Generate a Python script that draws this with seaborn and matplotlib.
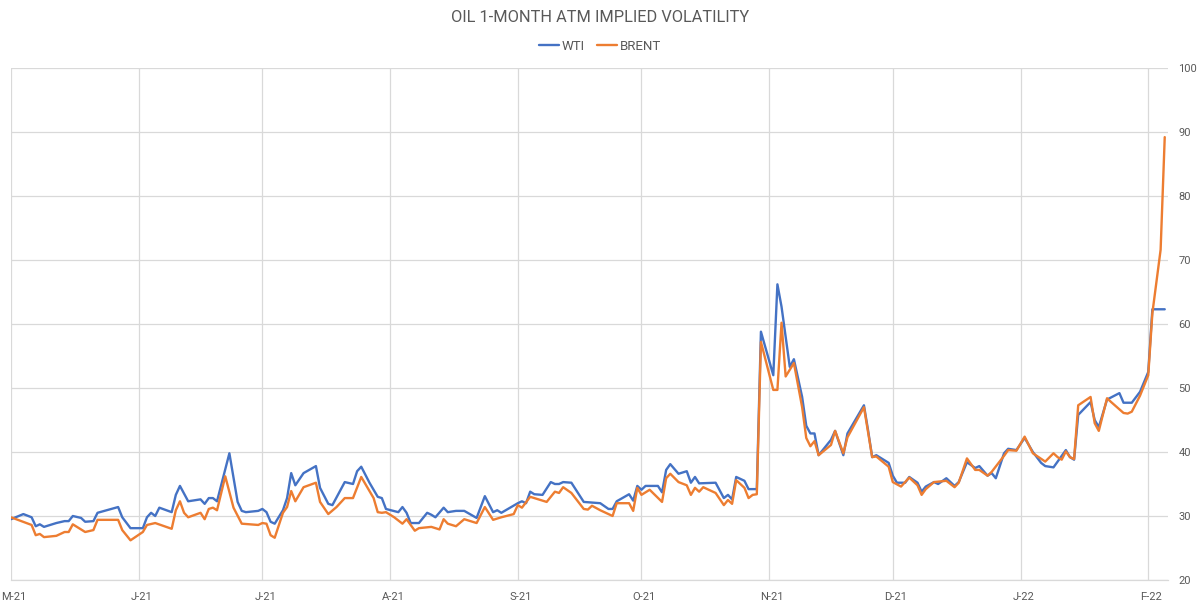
import matplotlib
matplotlib.use("Agg")
import matplotlib.pyplot as plt
import matplotlib.transforms as mtransforms
from matplotlib.lines import Line2D
import pandas as pd
import seaborn as sns

wti_dates = [
    "2021-05-01", "2021-05-04", "2021-05-06", "2021-05-07", "2021-05-08", "2021-05-09", "2021-05-12",
    "2021-05-14", "2021-05-15", "2021-05-16", "2021-05-18", "2021-05-19", "2021-05-21", "2021-05-22",
    "2021-05-27", "2021-05-28", "2021-05-30", "2021-06-02", "2021-06-03", "2021-06-04", "2021-06-05",
    "2021-06-06", "2021-06-09", "2021-06-10", "2021-06-11", "2021-06-13", "2021-06-16", "2021-06-17",
    "2021-06-18", "2021-06-19", "2021-06-20", "2021-06-23", "2021-06-25", "2021-06-26", "2021-06-27",
    "2021-06-30", "2021-07-01", "2021-07-02", "2021-07-03", "2021-07-04", "2021-07-06", "2021-07-07",
    "2021-07-08", "2021-07-09", "2021-07-11", "2021-07-14", "2021-07-15", "2021-07-17", "2021-07-18",
    "2021-07-21", "2021-07-23", "2021-07-24", "2021-07-25", "2021-07-27", "2021-07-29", "2021-07-30",
    "2021-07-31", "2021-08-03", "2021-08-04", "2021-08-05", "2021-08-06", "2021-08-08", "2021-08-10",
    "2021-08-11", "2021-08-12", "2021-08-14", "2021-08-15", "2021-08-17", "2021-08-19", "2021-08-22",
    "2021-08-24", "2021-08-26", "2021-08-27", "2021-08-28", "2021-09-01", "2021-09-02", "2021-09-03",
    "2021-09-04", "2021-09-05", "2021-09-07", "2021-09-09", "2021-09-10", "2021-09-11", "2021-09-12",
    "2021-09-14", "2021-09-17", "2021-09-21", "2021-09-23", "2021-09-24", "2021-09-25", "2021-09-28",
    "2021-09-29", "2021-09-30", "2021-10-01", "2021-10-02", "2021-10-05", "2021-10-06", "2021-10-07",
    "2021-10-08", "2021-10-10", "2021-10-12", "2021-10-13", "2021-10-14", "2021-10-15", "2021-10-19",
    "2021-10-21", "2021-10-22", "2021-10-23", "2021-10-24", "2021-10-26", "2021-10-27", "2021-10-29",
    "2021-10-30", "2021-11-02", "2021-11-03", "2021-11-04", "2021-11-06", "2021-11-07", "2021-11-09",
    "2021-11-10", "2021-11-11", "2021-11-12", "2021-11-13", "2021-11-16", "2021-11-17", "2021-11-19",
    "2021-11-20", "2021-11-24", "2021-11-25", "2021-11-26", "2021-11-27", "2021-11-30", "2021-12-01",
    "2021-12-02", "2021-12-04", "2021-12-05", "2021-12-07", "2021-12-08", "2021-12-09", "2021-12-11",
    "2021-12-12", "2021-12-14", "2021-12-16", "2021-12-17", "2021-12-19", "2021-12-21", "2021-12-22",
    "2021-12-24", "2021-12-25", "2021-12-26", "2021-12-28", "2021-12-29", "2021-12-31", "2022-01-02",
    "2022-01-04", "2022-01-06", "2022-01-07", "2022-01-09", "2022-01-12", "2022-01-13", "2022-01-14",
    "2022-01-15", "2022-01-18", "2022-01-19", "2022-01-20", "2022-01-22", "2022-01-25", "2022-01-26",
    "2022-01-28", "2022-01-30", "2022-02-01", "2022-02-02", "2022-02-05",
]
wti_values = [
    29.5, 30.3, 29.8, 28.4, 28.7, 28.3, 28.9,
    29.2, 29.2, 30.0, 29.7, 29.1, 29.2, 30.5,
    31.4, 29.8, 28.1, 28.1, 29.8, 30.5, 30.0,
    31.3, 30.6, 33.3, 34.7, 32.3, 32.6, 31.9,
    32.8, 32.8, 32.3, 39.8, 32.2, 30.8, 30.6,
    30.8, 31.1, 30.6, 29.1, 28.8, 30.9, 32.8,
    36.7, 34.8, 36.7, 37.8, 34.4, 31.9, 31.7,
    35.3, 35.0, 37.0, 37.7, 35.2, 33.0, 32.8,
    31.1, 30.6, 31.4, 30.5, 28.9, 28.9, 30.5,
    30.2, 29.8, 31.3, 30.6, 30.8, 30.8, 29.7,
    33.1, 30.6, 30.9, 30.5, 32.0, 32.3, 32.0,
    33.8, 33.4, 33.3, 35.3, 35.0, 35.0, 35.3,
    35.2, 32.2, 32.0, 31.1, 31.1, 32.3, 33.4,
    32.4, 34.7, 34.1, 34.7, 34.7, 33.7, 37.2,
    38.1, 36.6, 37.0, 35.2, 36.1, 35.1, 35.2,
    32.8, 33.3, 32.6, 36.1, 35.5, 34.2, 34.2,
    58.8, 52.0, 66.2, 62.7, 53.3, 54.5, 48.6,
    44.1, 42.9, 42.9, 39.5, 41.9, 43.3, 39.5,
    42.9, 47.3, 43.4, 39.2, 39.5, 38.3, 36.3,
    35.2, 35.2, 36.1, 35.2, 33.8, 34.6, 35.3,
    35.0, 35.9, 34.7, 35.3, 38.4, 37.5, 37.8,
    36.3, 36.7, 35.9, 39.8, 40.5, 40.3, 42.2,
    40.0, 38.3, 37.8, 37.6, 40.3, 39.2, 38.8,
    45.8, 47.8, 45.0, 43.9, 48.2, 49.2, 47.7,
    47.7, 49.4, 52.5, 62.3, 62.3,
]

brent_dates = [
    "2021-05-01", "2021-05-06", "2021-05-07", "2021-05-08", "2021-05-09", "2021-05-12", "2021-05-14",
    "2021-05-15", "2021-05-16", "2021-05-19", "2021-05-21", "2021-05-22", "2021-05-27", "2021-05-28",
    "2021-05-30", "2021-06-02", "2021-06-03", "2021-06-05", "2021-06-09", "2021-06-10", "2021-06-11",
    "2021-06-12", "2021-06-13", "2021-06-16", "2021-06-17", "2021-06-18", "2021-06-19", "2021-06-20",
    "2021-06-22", "2021-06-24", "2021-06-26", "2021-06-30", "2021-07-01", "2021-07-02", "2021-07-03",
    "2021-07-04", "2021-07-06", "2021-07-07", "2021-07-08", "2021-07-09", "2021-07-11", "2021-07-14",
    "2021-07-15", "2021-07-17", "2021-07-19", "2021-07-21", "2021-07-23", "2021-07-25", "2021-07-28",
    "2021-07-29", "2021-07-30", "2021-07-31", "2021-08-02", "2021-08-04", "2021-08-05", "2021-08-07",
    "2021-08-08", "2021-08-11", "2021-08-13", "2021-08-14", "2021-08-15", "2021-08-17", "2021-08-19",
    "2021-08-22", "2021-08-24", "2021-08-26", "2021-08-28", "2021-08-31", "2021-09-01", "2021-09-02",
    "2021-09-04", "2021-09-08", "2021-09-10", "2021-09-11", "2021-09-12", "2021-09-14", "2021-09-17",
    "2021-09-18", "2021-09-19", "2021-09-21", "2021-09-23", "2021-09-24", "2021-09-25", "2021-09-28",
    "2021-09-29", "2021-09-30", "2021-10-01", "2021-10-03", "2021-10-06", "2021-10-07", "2021-10-08",
    "2021-10-10", "2021-10-12", "2021-10-13", "2021-10-14", "2021-10-15", "2021-10-16", "2021-10-19",
    "2021-10-21", "2021-10-22", "2021-10-23", "2021-10-24", "2021-10-26", "2021-10-27", "2021-10-28",
    "2021-10-29", "2021-10-30", "2021-11-02", "2021-11-03", "2021-11-04", "2021-11-05", "2021-11-07",
    "2021-11-09", "2021-11-10", "2021-11-11", "2021-11-12", "2021-11-13", "2021-11-16", "2021-11-17",
    "2021-11-19", "2021-11-20", "2021-11-24", "2021-11-25", "2021-11-26", "2021-11-27", "2021-11-30",
    "2021-12-01", "2021-12-03", "2021-12-05", "2021-12-07", "2021-12-08", "2021-12-09", "2021-12-11",
    "2021-12-14", "2021-12-16", "2021-12-17", "2021-12-19", "2021-12-21", "2021-12-22", "2021-12-24",
    "2021-12-25", "2021-12-28", "2021-12-29", "2021-12-31", "2022-01-02", "2022-01-04", "2022-01-07",
    "2022-01-09", "2022-01-10", "2022-01-11", "2022-01-12", "2022-01-13", "2022-01-14", "2022-01-15",
    "2022-01-18", "2022-01-19", "2022-01-20", "2022-01-22", "2022-01-23", "2022-01-26", "2022-01-27",
    "2022-01-28", "2022-01-30", "2022-02-01", "2022-02-02", "2022-02-04", "2022-02-05",
]
brent_values = [
    29.8, 28.6, 27.0, 27.2, 26.7, 26.9, 27.5,
    27.5, 28.7, 27.5, 27.8, 29.4, 29.4, 27.8,
    26.2, 27.5, 28.6, 28.9, 28.0, 30.9, 32.3,
    30.5, 29.8, 30.5, 29.5, 31.1, 31.3, 30.9,
    36.2, 31.3, 28.8, 28.6, 28.9, 28.8, 27.0,
    26.6, 30.5, 31.4, 33.9, 32.3, 34.5, 35.2,
    32.2, 30.3, 31.4, 32.8, 32.8, 36.1, 32.8,
    30.6, 30.5, 30.6, 29.8, 28.8, 29.5, 27.7,
    28.1, 28.3, 27.9, 29.5, 28.8, 28.4, 29.5,
    28.9, 31.4, 29.4, 29.8, 30.3, 31.7, 31.3,
    33.0, 32.2, 33.8, 33.6, 34.5, 33.6, 31.1,
    31.0, 31.6, 30.9, 30.3, 30.0, 32.0, 32.0,
    30.8, 34.4, 33.3, 34.1, 32.2, 35.9, 36.6,
    35.3, 34.8, 33.3, 34.4, 33.8, 34.5, 33.6,
    31.7, 32.5, 31.9, 35.6, 34.4, 32.8, 33.3,
    33.4, 57.2, 49.7, 49.7, 60.2, 51.8, 53.9,
    47.0, 42.2, 40.9, 41.7, 39.5, 41.1, 43.3,
    39.8, 42.3, 47.0, 43.1, 39.2, 39.3, 37.7,
    35.3, 34.6, 36.0, 34.8, 33.3, 34.2, 35.3,
    35.5, 34.5, 35.2, 39.0, 37.2, 37.2, 36.3,
    36.9, 39.4, 40.3, 40.2, 42.4, 39.8, 38.5,
    39.8, 39.2, 38.8, 40.1, 39.2, 38.9, 47.3,
    48.6, 44.5, 43.3, 48.4, 47.8, 46.1, 46.0,
    46.3, 48.8, 52.0, 61.7, 71.6, 89.2,
]

series_names = ["WTI", "BRENT"]
series_colors = ["#4472C4", "#ED7D31"]
tick_dates = ["2021-05-01", "2021-06-01", "2021-07-01", "2021-08-01", "2021-09-01",
              "2021-10-01", "2021-11-01", "2021-12-01", "2022-01-01", "2022-02-01"]
tick_labels = ["M-21", "J-21", "J-21", "A-21", "S-21", "O-21", "N-21", "D-21", "J-22", "F-22"]
y_ticks = [20, 30, 40, 50, 60, 70, 80, 90, 100]
title = "OIL 1-MONTH ATM IMPLIED VOLATILITY"

df = pd.concat([
    pd.DataFrame({"date": pd.to_datetime(wti_dates), "vol": wti_values, "series": "WTI"}),
    pd.DataFrame({"date": pd.to_datetime(brent_dates), "vol": brent_values, "series": "BRENT"}),
], ignore_index=True)

sns.set_theme(style="white")
plt.rcParams["font.family"] = ["Roboto", "DejaVu Sans"]

TXT = "#595959"
GRID = "#D9D9D9"

fig = plt.figure(figsize=(12, 6.06), dpi=100)
ax = fig.add_axes([11 / 1200, 1 - 580 / 606, (1168 - 11) / 1200, (580 - 68) / 606])

palette = dict(zip(series_names, series_colors))
sns.lineplot(data=df, x="date", y="vol", hue="series", hue_order=series_names,
             palette=palette, linewidth=1.7, estimator=None, sort=True,
             legend=False, ax=ax)

ax.set_xlim(pd.Timestamp("2021-05-01"), pd.Timestamp("2022-02-05 19:00"))
ax.set_ylim(20, 100)
ax.set_xticks(pd.to_datetime(tick_dates))
ax.set_xticklabels(tick_labels)
ax.set_yticks(y_ticks)
ax.yaxis.tick_right()
ax.set_xlabel("")
ax.set_ylabel("")

ax.grid(True, axis="both", color=GRID, linewidth=0.9)
ax.set_axisbelow(True)
for s in ["top", "left", "right"]:
    ax.spines[s].set_visible(False)
ax.spines["bottom"].set_color(GRID)
ax.spines["bottom"].set_linewidth(0.9)

ax.tick_params(axis="x", colors=GRID, length=4, width=0.9, direction="out",
               labelcolor=TXT, labelsize=8, pad=5)
ax.tick_params(axis="y", length=0, labelcolor=TXT, labelsize=8, pad=7.5)
shift = mtransforms.ScaledTranslation(3 / 100, 0, fig.dpi_scale_trans)
for lbl in ax.get_xticklabels():
    lbl.set_horizontalalignment("center")
    lbl.set_transform(lbl.get_transform() + shift)

fig.text(0.5, 1 - 18 / 606, title, ha="center", va="center",
         fontsize=11.8, color=TXT)

handles = [Line2D([0], [0], color=c, linewidth=1.7) for c in series_colors]
fig.legend(handles, series_names, loc="center", bbox_to_anchor=(0.5, 1 - 46 / 606),
           ncol=2, frameon=False, fontsize=9.5, labelcolor=TXT,
           handlelength=1.5, handletextpad=0.25, columnspacing=0.9)

fig.savefig("out.png", dpi=100)
